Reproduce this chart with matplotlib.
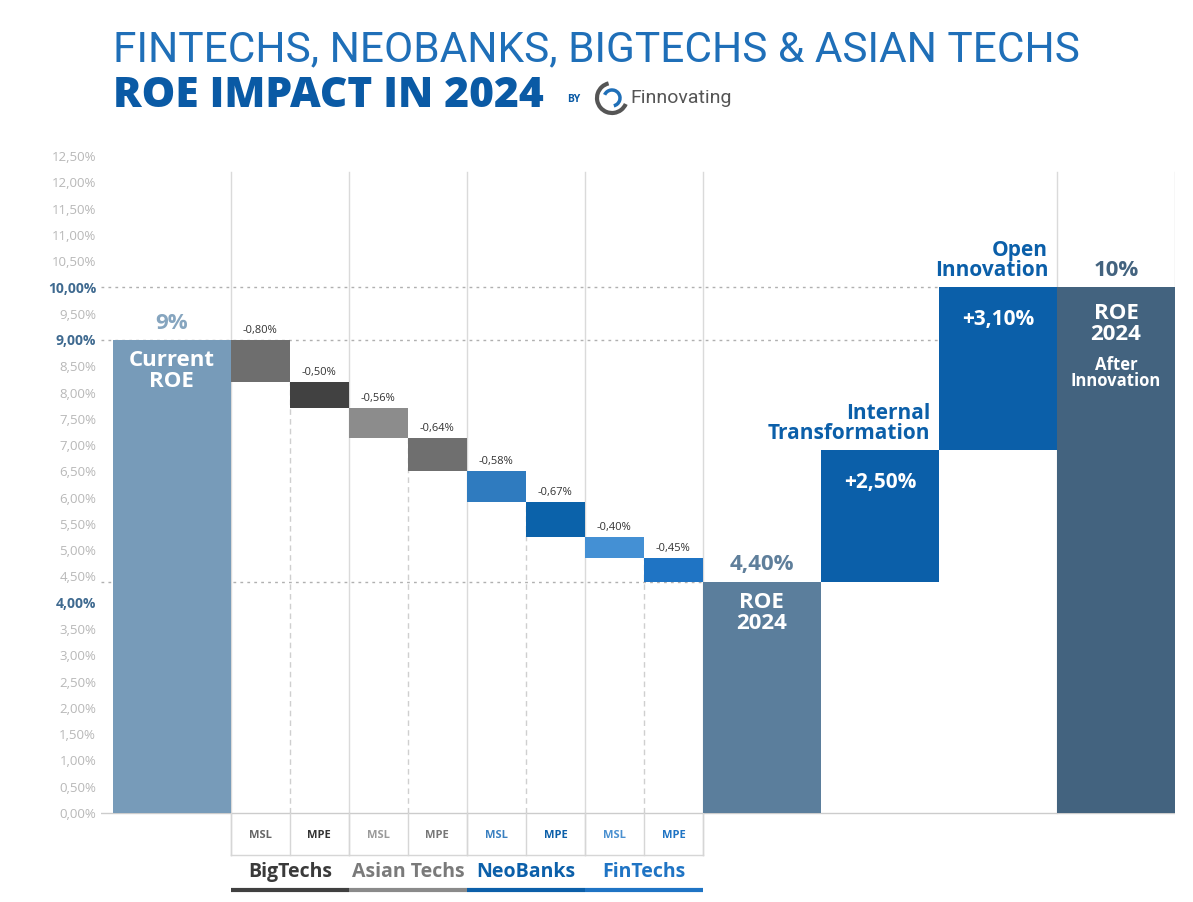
import matplotlib.pyplot as plt
from matplotlib.patches import Arc

# ROE bridge: current ROE, competitor impacts, ROE 2024, innovation gains, final ROE
start_roe = 9.0
groups = ['BigTechs', 'Asian Techs', 'NeoBanks', 'FinTechs']
sub_labels = ['MSL', 'MPE']
impacts = [-0.80, -0.50, -0.56, -0.64, -0.58, -0.67, -0.40, -0.45]
impact_labels = ['-0,80%', '-0,50%', '-0,56%', '-0,64%', '-0,58%', '-0,67%', '-0,40%', '-0,45%']
roe_2024 = 4.40
gains = [2.50, 3.10]
gain_labels = ['+2,50%', '+3,10%']
gain_names = ['Internal\nTransformation', 'Open\nInnovation']
final_roe = 10.0
yticks = [i * 0.5 for i in range(26)]
ytick_labels = ['0,00%', '0,50%', '1,00%', '1,50%', '2,00%', '2,50%', '3,00%', '3,50%',
                '4,00%', '4,50%', '5,00%', '5,50%', '6,00%', '6,50%', '7,00%', '7,50%',
                '8,00%', '8,50%', '9,00%', '9,50%', '10,00%', '10,50%', '11,00%', '11,50%',
                '12,00%', '12,50%']
bold_ticks = ['10,00%', '9,00%', '4,00%']

impact_colors = ['#6e6e6e', '#414141', '#8c8c8c', '#6f6f6f',
                 '#2f7bbf', '#0b62aa', '#4490d4', '#1f74c4']
sub_text_colors = ['#666666', '#333333', '#9a9a9a', '#777777',
                   '#3a80c0', '#0b5fa9', '#4a90d0', '#1f74c4']
group_colors = ['#3a3a3a', '#7a7a7a', '#0b5fa9', '#1f74c4']
line_colors = ['#404040', '#8a8a8a', '#0b5fa9', '#1f74c4']
blue = '#0b5fa9'

plt.rcParams['font.family'] = ['Open Sans', 'DejaVu Sans']

fig = plt.figure(figsize=(11.93, 9.02), dpi=100)
ax = fig.add_axes([0, 0, 1, 1])
ax.set_xlim(-0.2, 18)
ax.set_ylim(-1.7, 12.5)
# place y=0 at 813px and 12.5 at 156px from the top
px_per_unit = (813 - 156) / 12.5
bottom_px = 813 + 1.7 * px_per_unit
ax.set_position([101 / 1193, (902 - bottom_px) / 902, 1074 / 1193, (bottom_px - 156) / 902])

for s in ax.spines.values():
    s.set_visible(False)
ax.tick_params(length=0)
ax.set_xticks([])
ax.set_yticks(yticks)
ax.set_yticklabels(ytick_labels)
for lab in ax.get_yticklabels():
    if lab.get_text() in bold_ticks:
        lab.set_color('#3f6a90')
        lab.set_fontweight('bold')
        lab.set_fontsize(10)
    else:
        lab.set_color('#b8b8b8')
        lab.set_fontsize(9.5)

# solid column separators
for x in [2, 4, 6, 8, 10]:
    ax.plot([x, x], [-0.8, 12.2], color='#dadada', lw=1, zorder=0)
for x in [16, 18]:
    ax.plot([x, x], [0, 12.2], color='#dadada', lw=1, zorder=0)

# dotted reference levels
ax.plot([-0.2, 14], [final_roe, final_roe], color='#b0b0b0', lw=1, ls=(0, (2, 3)), zorder=0)
ax.plot([-0.2, 14], [start_roe, start_roe], color='#b0b0b0', lw=1, ls=(0, (2, 3)), zorder=0)
ax.plot([-0.2, 10], [roe_2024, roe_2024], color='#b0b0b0', lw=1, ls=(0, (2, 3)), zorder=0)

# current ROE
ax.bar(0, start_roe, width=2, align='edge', color='#779bb9', zorder=2)
ax.text(1, start_roe + 0.12, '9%', ha='center', va='bottom', fontsize=16,
        fontweight='bold', color='#86a5bf')
ax.text(1, start_roe - 0.2, 'Current\nROE', ha='center', va='top', fontsize=16,
        fontweight='bold', color='white', linespacing=1.0, zorder=3)

# competitor impacts
level = start_roe
bottoms = []
for i, (v, lab, c) in enumerate(zip(impacts, impact_labels, impact_colors)):
    x = 2 + i
    ax.bar(x, v, bottom=level, width=1, align='edge', color=c, zorder=2)
    ax.text(x + 0.5, level + 0.08, lab, ha='center', va='bottom', fontsize=8, color='#333333')
    level += v
    bottoms.append(level)

# dashed lines inside each group, from baseline to the bar bottom
for k in range(4):
    x = 3 + 2 * k
    ax.plot([x, x], [0, bottoms[2 * k]], color='#cfcfcf', lw=1, ls=(0, (4, 3)), zorder=0)

# small table under the impacts
ax.plot([-0.2, 18], [0, 0], color='#cccccc', lw=1, zorder=1)
ax.plot([2, 10], [-0.8, -0.8], color='#d6d6d6', lw=1, zorder=1)
for x in range(2, 11):
    ax.plot([x, x], [-0.8, 0], color='#d6d6d6', lw=1, zorder=1)
for i in range(8):
    ax.text(2 + i + 0.5, -0.42, sub_labels[i % 2], ha='center', va='center',
            fontsize=8, fontweight='bold', color=sub_text_colors[i])
for k, g in enumerate(groups):
    ax.text(3 + 2 * k, -1.13, g, ha='center', va='center', fontsize=14,
            fontweight='bold', color=group_colors[k])
    ax.plot([2 + 2 * k, 4 + 2 * k], [-1.47, -1.47], color=line_colors[k], lw=3,
            solid_capstyle='butt')

# ROE 2024
ax.bar(10, roe_2024, width=2, align='edge', color='#5b7e9c', zorder=2)
ax.text(11, roe_2024 + 0.12, '4,40%', ha='center', va='bottom', fontsize=16,
        fontweight='bold', color='#5f7f9b')
ax.text(11, roe_2024 - 0.2, 'ROE\n2024', ha='center', va='top', fontsize=16,
        fontweight='bold', color='white', linespacing=1.0, zorder=3)

# innovation gains
level = roe_2024
for i, (v, lab, name) in enumerate(zip(gains, gain_labels, gain_names)):
    x = 12 + 2 * i
    ax.bar(x, v, bottom=level, width=2, align='edge', color=blue, zorder=2)
    ax.text(x + 1, level + v - 0.42, lab, ha='center', va='top', fontsize=15,
            fontweight='bold', color='white', zorder=3)
    ax.text(x + 1.85, level + v + 0.12, name, ha='right', va='bottom', fontsize=15,
            fontweight='bold', color=blue, linespacing=0.95)
    level += v

# final ROE
ax.bar(16, final_roe, width=2, align='edge', color='#43637f', zorder=2)
ax.text(17, final_roe + 0.12, '10%', ha='center', va='bottom', fontsize=16,
        fontweight='bold', color='#43637f')
ax.text(17, final_roe - 0.3, 'ROE\n2024', ha='center', va='top', fontsize=16,
        fontweight='bold', color='white', linespacing=1.0, zorder=3)
ax.text(17, final_roe - 1.3, 'After\nInnovation', ha='center', va='top', fontsize=12,
        fontweight='bold', color='white', linespacing=0.9, zorder=3)

# title
fig.text(113 / 1193, 1 - 50 / 902, 'FINTECHS, NEOBANKS, BIGTECHS & ASIAN TECHS',
         ha='left', va='center', fontsize=30.5, color='#1f6fb8',
         family=['Roboto', 'DejaVu Sans'])
fig.text(113 / 1193, 1 - 96 / 902, 'ROE IMPACT IN 2024', ha='left', va='center',
         fontsize=30.5, fontweight='heavy', color='#0a5aa5',
         family=['Open Sans', 'DejaVu Sans'])
fig.text(567 / 1193, 1 - 99 / 902, 'BY', ha='left', va='center', fontsize=7.5,
         fontweight='bold', color='#0a5aa5')
cx, cy = 612 / 1193, 1 - 98 / 902
fig.add_artist(Arc((cx, cy), 30 / 1193, 30 / 902, theta1=100, theta2=330,
                   transform=fig.transFigure, color='#555555', lw=3))
fig.add_artist(Arc((cx, cy), 16 / 1193, 16 / 902, theta1=280, theta2=150,
                   transform=fig.transFigure, color='#1f6fb8', lw=2.5))
fig.text(630 / 1193, 1 - 98 / 902, 'Finnovating', ha='left', va='center', fontsize=14,
         color='#555555', family=['Roboto', 'DejaVu Sans'])

fig.savefig('out.png', dpi=100, facecolor='white')
